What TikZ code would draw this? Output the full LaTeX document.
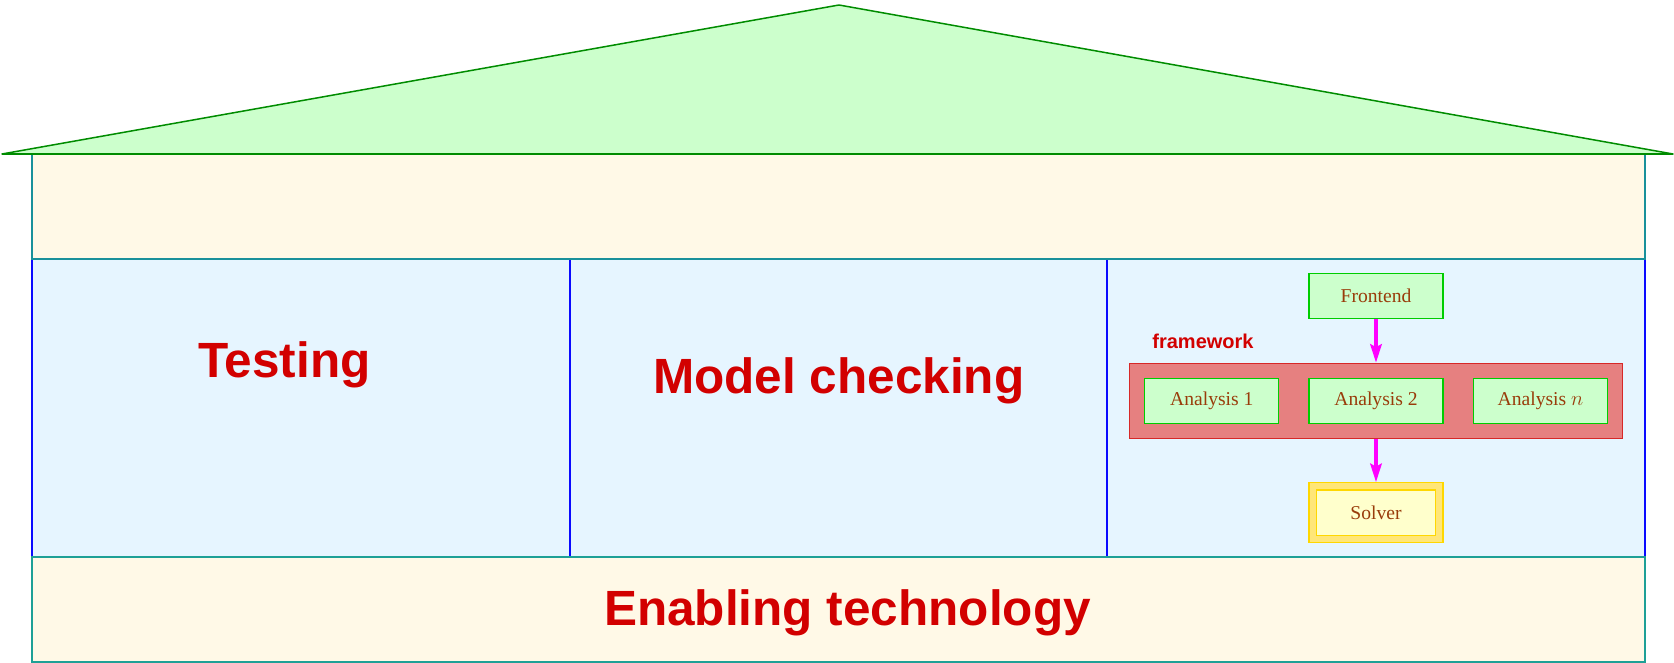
\documentclass[tikz,border=0pt]{standalone}
\usepackage{fontspec}
\setmainfont{Liberation Serif}
\newfontfamily\headfont{Liberation Sans}
\usetikzlibrary{arrows.meta}

\definecolor{roofgreen}{RGB}{0,140,0}
\definecolor{rooffill}{RGB}{204,255,204}
\definecolor{cream}{RGB}{255,249,231}
\definecolor{tealline}{RGB}{25,145,155}
\definecolor{groundline}{RGB}{30,160,150}
\definecolor{skyfill}{RGB}{230,245,255}
\definecolor{pillarline}{RGB}{10,10,255}
\definecolor{titlered}{RGB}{210,0,0}
\definecolor{boxgreen}{RGB}{0,205,0}
\definecolor{labelbrown}{RGB}{153,60,10}
\definecolor{fwfill}{RGB}{230,128,128}
\definecolor{fwline}{RGB}{215,40,40}
\definecolor{solverout}{RGB}{255,230,120}
\definecolor{solverin}{RGB}{255,255,204}
\definecolor{solverline}{RGB}{255,215,0}
\definecolor{flowpink}{RGB}{255,0,255}

\tikzset{
  title/.style={text=titlered, font=\headfont\bfseries\fontsize{49.5}{50}\selectfont, inner sep=0pt, anchor=base},
  stage/.style={draw=boxgreen, line width=1.2pt, fill=rooffill, text=labelbrown,
    font=\fontsize{19.6}{20}\selectfont, minimum width=134pt, minimum height=45pt, inner sep=0pt},
  flow/.style={draw=flowpink, line width=3.4pt, -{Stealth[length=18.5pt, width=11.5pt, inset=3pt]}},
}

\begin{document}
\begin{tikzpicture}[x=1pt, y=-1pt]
  \useasboundingbox (0,0) rectangle (1674,663);

  % roof
  \filldraw[fill=rooffill, draw=roofgreen, line width=1.5pt, line join=round]
    (2,154) -- (839,5) -- (1673,154) -- cycle;

  % three pillars
  \filldraw[fill=skyfill, draw=pillarline, line width=2pt] (32,258.7) rectangle (569.7,557.3);
  \filldraw[fill=skyfill, draw=pillarline, line width=2pt] (569.7,258.7) rectangle (1107.3,557.3);
  \filldraw[fill=skyfill, draw=pillarline, line width=2pt] (1107.3,258.7) rectangle (1645,557.3);

  % attic and foundation
  \filldraw[fill=cream, draw=tealline, line width=1.8pt] (32,154) rectangle (1645,258.7);
  \filldraw[fill=cream, draw=groundline, line width=1.8pt] (32,557.3) rectangle (1645,662);
  \draw[roofgreen, line width=1.5pt] (2,154) -- (1673,154);

  % pillar and foundation titles
  \node[title] (testing) at (284.5,377.3) {Testing};
  \node[title] (mc) at (838.8,393.3) {Model checking};
  \node[title] (enabling) at (847.5,625.7) {Enabling technology};

  % analysis framework
  \node[stage] (frontend) at (1376,296) {Frontend};
  \node[draw=fwline, line width=1.2pt, fill=fwfill, minimum width=493pt, minimum height=75pt, inner sep=0pt]
    (framework) at (1376,400.8) {};
  \node[text=titlered, font=\headfont\bfseries\fontsize{20}{21}\selectfont, anchor=base west, inner sep=0pt]
    (fwlabel) at (1152.2,348) {framework};
  \node[stage] (a1) at (1211.8,400.7) {Analysis 1};
  \node[stage] (a2) at (1376,400.7) {Analysis 2};
  \node[stage] (an) at (1540.5,400.7) {Analysis $n$};
  \node[draw=solverline, line width=1.2pt, fill=solverout, minimum width=134pt, minimum height=60pt, inner sep=0pt]
    (solverbox) at (1376,512.7) {};
  \node[draw=solverline, line width=1.2pt, fill=solverin, text=labelbrown, font=\fontsize{19.6}{20}\selectfont,
    minimum width=119.4pt, minimum height=45.3pt, inner sep=0pt] (solver) at (1376,512.7) {Solver};

  \draw[flow] (frontend.south) -- (framework.north);
  \draw[flow] (framework.south) -- (solverbox.north);
\end{tikzpicture}
\end{document}
